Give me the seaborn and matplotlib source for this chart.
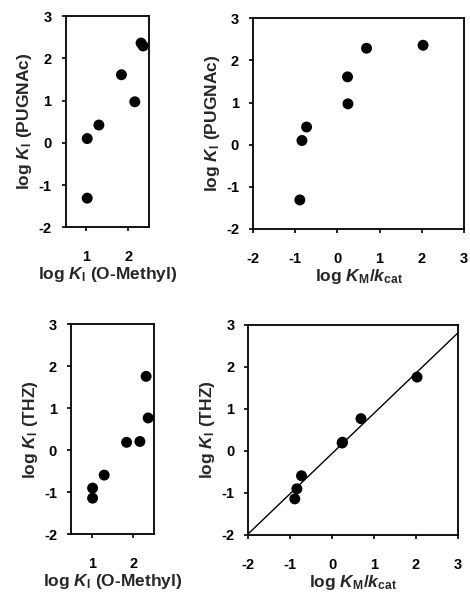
import matplotlib
matplotlib.use("Agg")
import matplotlib.pyplot as plt
import seaborn as sns
import numpy as np
import pandas as pd

# Data (7 enzymes)
log_ki_omethyl = [1.02, 1.02, 1.30, 1.84, 2.16, 2.36, 2.31]
log_km_kcat = [-0.89, -0.84, -0.73, 0.24, 0.25, 0.69, 2.03]
log_ki_pugnac = [-1.31, 0.10, 0.42, 1.61, 0.97, 2.29, 2.36]
log_ki_thz = [-1.14, -0.90, -0.59, 0.19, 0.21, 0.77, 1.76]

df = pd.DataFrame({"ome": log_ki_omethyl, "kmkcat": log_km_kcat,
                   "pug": log_ki_pugnac, "thz": log_ki_thz})

sns.set_style("ticks")
plt.rcParams['font.family'] = ['Liberation Sans', 'DejaVu Sans']
plt.rcParams['font.weight'] = 'bold'
plt.rcParams['mathtext.fontset'] = 'custom'
plt.rcParams['mathtext.rm'] = 'Liberation Sans:bold'
plt.rcParams['mathtext.it'] = 'Liberation Sans:italic:bold'
plt.rcParams['mathtext.bf'] = 'Liberation Sans:bold'
plt.rcParams['mathtext.default'] = 'it'

fig = plt.figure(figsize=(4.7, 5.99), dpi=100)
W, H = 470, 599
def add(l, t, r, b):
    return fig.add_axes([l / W, (H - b) / H, (r - l) / W, (b - t) / H])

ax_tl = add(65.5, 16, 149, 227.3)
ax_tr = add(253, 18.3, 464, 229)
ax_bl = add(71, 324.3, 154, 534.3)
ax_br = add(248.3, 325, 457.7, 535)

ylab_pug = r"log $K_{\mathrm{I}}$ (PUGNAc)"
ylab_thz = r"log $K_{\mathrm{I}}$ (THZ)"
xlab_ome = r"log $K_{\mathrm{I}}$ (O-Methyl)"
xlab_km = r"log $K_{\mathrm{M}}$/$k_{\mathrm{cat}}$"

fs_tick = 10.5
fs_lab = 12.5

panels = [
    (ax_tl, "ome", "pug", xlab_ome, ylab_pug, (0.5, 2.5), [1, 2]),
    (ax_tr, "kmkcat", "pug", xlab_km, ylab_pug, (-2, 3), [-2, -1, 0, 1, 2, 3]),
    (ax_bl, "ome", "thz", xlab_ome, ylab_thz, (0.5, 2.5), [1, 2]),
    (ax_br, "kmkcat", "thz", xlab_km, ylab_thz, (-2, 3), [-2, -1, 0, 1, 2, 3]),
]

for ax, xc, yc, xl, yl, xlim, xt in panels:
    sns.scatterplot(data=df, x=xc, y=yc, ax=ax, color="black", s=62,
                    edgecolor="none", zorder=3, clip_on=False)
    ax.set_xlim(*xlim)
    ax.set_ylim(-2, 3)
    ax.set_xticks(xt)
    ax.set_yticks([-2, -1, 0, 1, 2, 3])
    ax.set_xticklabels([str(v) for v in xt], fontsize=fs_tick, fontweight="bold")
    ax.set_yticklabels([str(v) for v in [-2, -1, 0, 1, 2, 3]], fontsize=fs_tick, fontweight="bold")
    ax.tick_params(axis="x", direction="out", length=3, width=1.2, pad=13.5, colors="black")
    ax.tick_params(axis="y", direction="out", length=3, width=1.2, pad=7, colors="black")
    ax.set_xlabel(xl, fontsize=fs_lab, fontweight="bold", labelpad=0.5)
    ax.set_ylabel(yl, fontsize=fs_lab, fontweight="bold", labelpad=3)
    for sp in ax.spines.values():
        sp.set_visible(True)
        sp.set_linewidth(1.3)
        sp.set_color("black")

# Linear fit on bottom-right panel
slope, intercept = np.polyfit(df["kmkcat"], df["thz"], 1)
xs = np.array(ax_br.get_xlim())
ax_br.plot(xs, slope * xs + intercept, color="black", lw=1.0, zorder=2)
ax_br.set_xlim(-2, 3)
ax_br.set_ylim(-2, 3)

fig.savefig("out.png", dpi=100)
